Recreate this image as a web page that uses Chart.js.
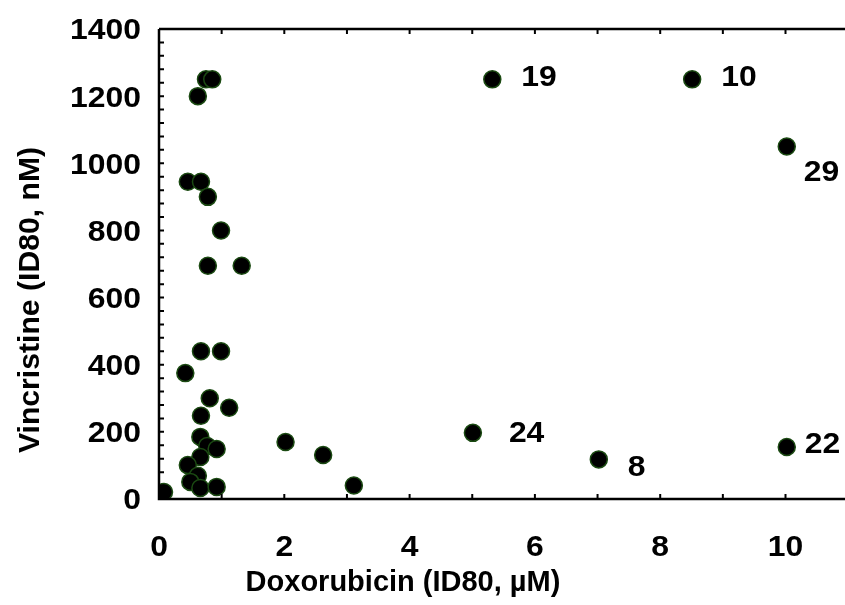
<!DOCTYPE html>
<html>
<head>
<meta charset="utf-8">
<script src="https://cdn.jsdelivr.net/npm/chart.js@4"></script>
<style>
  html, body { margin: 0; padding: 0; background: #fff; overflow: hidden; }
</style>
</head>
<body>
<canvas id="chart" width="845" height="605"></canvas>
<script>
// ID80 values, one entry per cell line
const doxorubicin = [0.75, 0.85, 0.62, 0.46, 0.67, 0.78, 0.99, 0.78, 1.32,
  0.67, 0.99, 0.42, 0.81, 1.12, 0.67, 0.66, 0.77, 0.92, 0.66, 0.46, 0.62,
  0.50, 0.66, 0.92, 0.08, 2.02, 2.62, 3.11, 5.01, 7.02, 10.02, 5.32, 8.51, 10.02];
const vincristine = [1250, 1250, 1200, 945, 945, 900, 800, 695, 695,
  440, 440, 375, 300, 272, 248, 185, 158, 149, 125, 101, 69,
  51, 33, 36, 21, 170, 131, 40, 197, 118, 155, 1250, 1250, 1050];
const cellLabels = ["", "", "", "", "", "", "", "", "",
  "", "", "", "", "", "", "", "", "", "", "", "",
  "", "", "", "", "", "", "", "24", "8", "22", "19", "10", "29"];

const xTickLabels = [0, 2, 4, 6, 8, 10];
const yTickLabels = [0, 200, 400, 600, 800, 1000, 1200, 1400];

// where each cell-line number sits relative to its dot (px)
const labelOffsets = {
  "19": [29, -4], "10": [29, -4], "29": [17, 24],
  "24": [36, -1], "8": [29, 6], "22": [18, -4]
};

const FONT = "bold 29px 'Liberation Sans', Arial, sans-serif";

// digits in the original are a bit wider than plain Arial
function drawText(ctx, text, x, y, align, stretch) {
  ctx.save();
  ctx.translate(x, y);
  ctx.scale(stretch, 1);
  ctx.textAlign = align;
  ctx.textBaseline = "alphabetic";
  ctx.fillText(text, 0, 10.4);
  ctx.restore();
}

const framePlugin = {
  id: "frame",
  afterDatasetsDraw(chart) {
    const { ctx, chartArea: a, scales: { x, y } } = chart;
    ctx.save();
    ctx.strokeStyle = "#000";
    ctx.lineWidth = 2.5;
    // the frame runs off the right edge in the original
    ctx.beginPath();
    ctx.moveTo(a.left, a.top);
    ctx.lineTo(chart.width, a.top);
    ctx.moveTo(a.left, a.top);
    ctx.lineTo(a.left, a.bottom);
    ctx.lineTo(chart.width, a.bottom);
    ctx.stroke();

    // inward tick marks
    ctx.lineWidth = 2;
    ctx.beginPath();
    x.ticks.forEach((t) => {
      if (!Number.isInteger(t.value)) return;
      const px = x.getPixelForValue(t.value);
      ctx.moveTo(px, a.bottom);
      ctx.lineTo(px, a.bottom - 5);
      ctx.moveTo(px, a.top);
      ctx.lineTo(px, a.top + 5);
    });
    y.ticks.forEach((t) => {
      const py = y.getPixelForValue(t.value);
      ctx.moveTo(a.left, py);
      ctx.lineTo(a.left + 5, py);
    });
    ctx.stroke();
    ctx.restore();
  },
  afterDraw(chart) {
    const { ctx, chartArea: a, scales: { x, y } } = chart;
    ctx.save();
    ctx.fillStyle = "#000";
    ctx.font = FONT;

    x.ticks.forEach((t) => {
      if (xTickLabels.includes(t.value)) {
        drawText(ctx, String(t.value), x.getPixelForValue(t.value), 546, "center", 1.1);
      }
    });
    y.ticks.forEach((t) => {
      if (yTickLabels.includes(t.value)) {
        drawText(ctx, String(t.value), a.left - 18, y.getPixelForValue(t.value), "right", 1.1);
      }
    });

    // cell line numbers next to the outliers
    const meta = chart.getDatasetMeta(0);
    cellLabels.forEach((lbl, i) => {
      if (!lbl) return;
      const pt = meta.data[i];
      const off = labelOffsets[lbl];
      drawText(ctx, lbl, pt.x + off[0], pt.y + off[1], "left", 1.1);
    });

    // axis titles
    drawText(ctx, "Doxorubicin (ID80, \u00b5M)", 403, 581, "center", 1);
    ctx.save();
    ctx.translate(29, 300);
    ctx.rotate(-Math.PI / 2);
    drawText(ctx, "Vincristine (ID80, nM)", 0, 0, "center", 1.04);
    ctx.restore();
    ctx.restore();
  }
};

const points = doxorubicin.map((d, i) => ({ x: d, y: vincristine[i] }));

new Chart(document.getElementById("chart"), {
  type: "scatter",
  data: {
    datasets: [{
      label: "Cell lines",
      data: points,
      backgroundColor: "#000",
      borderColor: "#1b4a12",
      borderWidth: 1.5,
      pointRadius: 8.5,
      pointHoverRadius: 8.5
    }]
  },
  options: {
    responsive: false,
    animation: false,
    devicePixelRatio: 1,
    layout: { padding: { top: 29, right: 0, bottom: 0, left: 0 } },
    plugins: {
      legend: { display: false },
      tooltip: { enabled: false }
    },
    scales: {
      x: {
        type: "linear",
        min: 0,
        max: 10.79,
        grid: { display: false, drawTicks: false },
        border: { display: false },
        ticks: { display: false, stepSize: 1, autoSkip: false, includeBounds: false },
        afterFit: (s) => { s.height = 106; }
      },
      y: {
        type: "linear",
        min: 0,
        max: 1400,
        grid: { display: false, drawTicks: false },
        border: { display: false },
        ticks: { display: false, stepSize: 40, autoSkip: false },
        afterFit: (s) => { s.width = 159; }
      }
    }
  },
  plugins: [framePlugin]
});
</script>
</body>
</html>
